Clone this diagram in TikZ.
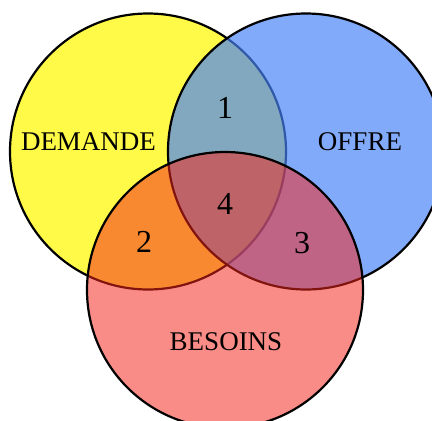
\documentclass[tikz,border=0pt]{standalone}
\usepackage{fontspec}
\setmainfont{Liberation Serif}
\usetikzlibrary{positioning}

\definecolor{demandecol}{RGB}{255,250,72}
\definecolor{offrecol}{RGB}{71,130,248}
\definecolor{besoinscol}{RGB}{245,38,28}

\begin{document}
\begin{tikzpicture}[x=1pt, y=-1pt,
	set/.style={circle, draw=black, line width=2.2pt, minimum size=276pt, inner sep=0pt},
	setname/.style={font=\fontsize{27}{30}\selectfont},
	zone/.style={font=\fontsize{32}{35}\selectfont}]
					\useasboundingbox (0,0) rectangle (432,421);
					\clip (0,0) rectangle (432,421);
					\node[set, fill=demandecol] (demande) at (148,151.5) {};
					\node[set, fill=offrecol, fill opacity=0.68] (offre) at (306,151.5) {};
					\node[set, fill=besoinscol, fill opacity=0.53] (besoins) at (225,290) {};
					
					\node[setname] (ldemande) at (88.5,142) {DEMANDE};
					\node[setname] (loffre) at (360,142) {OFFRE};
					\node[setname] (lbesoins) at (226,342) {BESOINS};
					
					\node[zone] (z1) at (225,108) {1};
					\node[zone] (z4) at (225,204) {4};
					\node[zone] (z2) at (144,242) {2};
					\node[zone] (z3) at (302,243) {3};
				\end{tikzpicture}
\end{document}
